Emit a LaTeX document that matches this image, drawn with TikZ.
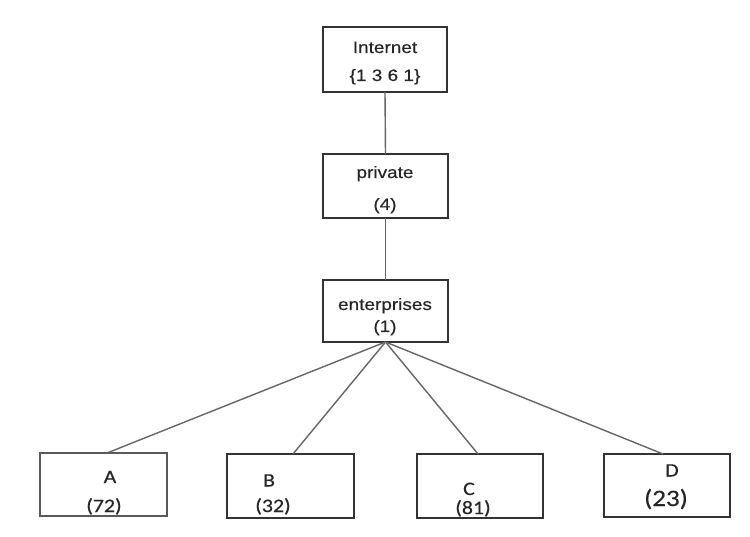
\documentclass[tikz,border=0pt]{standalone}
\usepackage{fontspec}
\newfontfamily\arialf[FakeStretch=1.15,FakeBold=0.4]{Liberation Sans}
\newfontfamily\calf[FakeStretch=1.15,FakeBold=0.4]{Carlito}
\begin{document}
\begin{tikzpicture}[x=1pt,y=-1pt,
  box/.style={draw=black!80, line width=1.5pt, rectangle, inner sep=0pt, outer sep=0pt, fill=white},
  conn/.style={draw=black!60, line width=1.4pt},
  toptxt/.style={anchor=base, inner sep=0pt, font=\arialf\fontsize{16.5}{18}\selectfont, text=black!85},
  bottxt/.style={anchor=base, inner sep=0pt, font=\calf\fontsize{19}{22}\selectfont, text=black!85}]
\useasboundingbox[fill=white] (0,0) rectangle (750,537);
% boxes
\node[box, minimum width=124, minimum height=65] (internet) at (385,59.5) {};
\node[box, minimum width=125, minimum height=64] (private) at (385.5,186) {};
\node[box, minimum width=125, minimum height=62] (ent) at (385.5,311) {};
\node[box, minimum width=127, minimum height=63, draw=black!65, line width=1.2pt] (A) at (103.5,484.5) {};
\node[box, minimum width=127, minimum height=64] (B) at (290.5,486) {};
\node[box, minimum width=126, minimum height=64] (C) at (480,486) {};
\node[box, minimum width=126, minimum height=63] (D) at (667,485.5) {};
% connectors
\draw[conn] (internet.south) -- (private.north);
\draw[conn] (private.south) -- (ent.north);
\draw[conn] (ent.south) -- ([xshift=3.5pt]A.north);
\draw[conn] (ent.south) -- ([xshift=2.5pt]B.north);
\draw[conn] (ent.south) -- ([xshift=-2pt]C.north);
\draw[conn] (ent.south) -- ([xshift=-4pt]D.north);
% texts
\node[toptxt] (t1) at (385,53) {Internet};
\node[toptxt] (t2) at (385,81) {\{1 3 6 1\}};
\node[toptxt] (t3) at (385,178) {private};
\node[toptxt] (t4) at (385,210) {(4)};
\node[toptxt] (t5) at (385,310) {enterprises};
\node[toptxt] (t6) at (385,332) {(1)};
\node[bottxt] (ta) at (110,483) {A};
\node[bottxt] (ta2) at (104,512) {(72)};
\node[bottxt] (tb) at (269,486.5) {B};
\node[bottxt] (tb2) at (273,512) {(32)};
\node[bottxt] (tc) at (469,495) {C};
\node[bottxt] (tc2) at (473,514) {(81)};
\node[bottxt] (td) at (672,476.5) {D};
\node[bottxt, font=\calf\fontsize{23.5}{26}\selectfont] (td2) at (666,506) {(23)};
\end{tikzpicture}
\end{document}
